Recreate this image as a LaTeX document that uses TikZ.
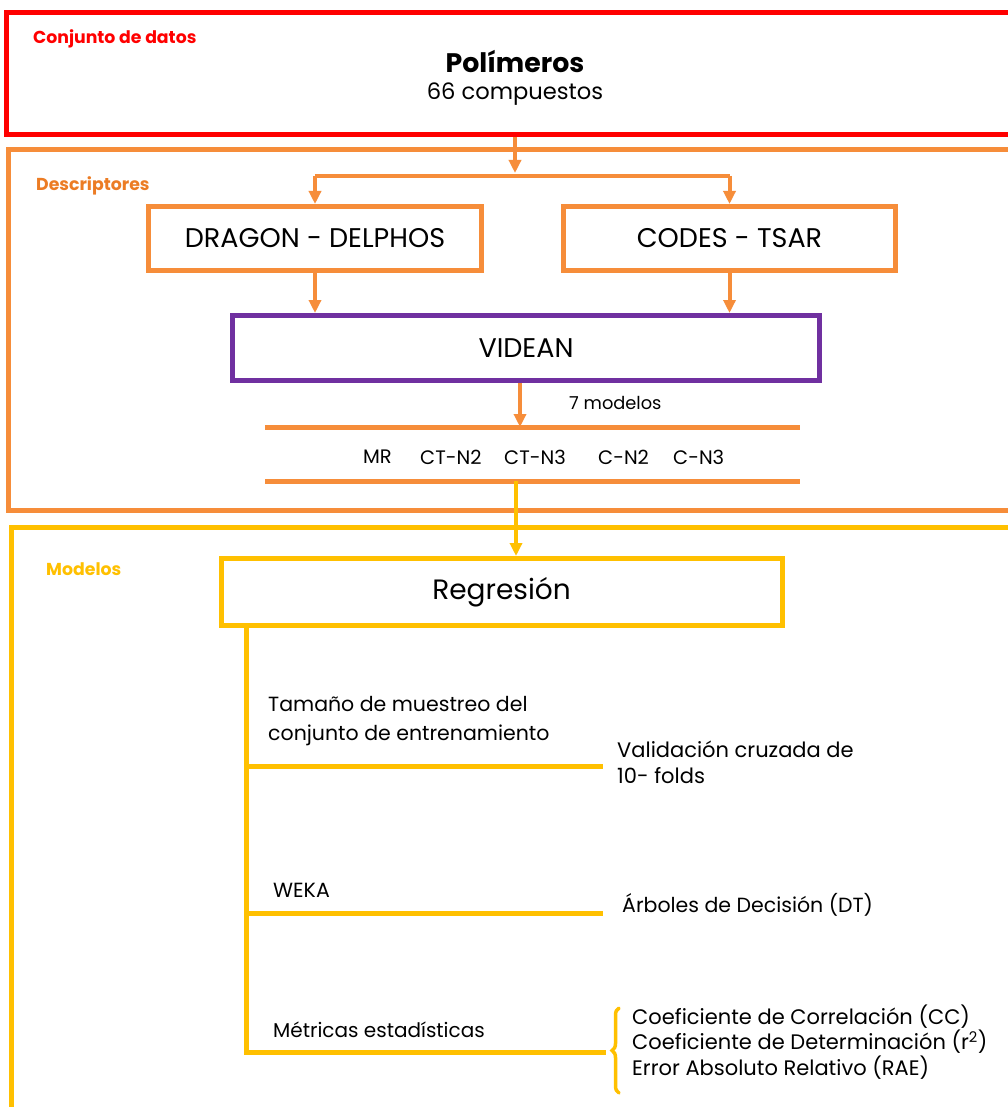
\documentclass[tikz,border=0pt]{standalone}
\usepackage{fontspec}
\setmainfont{Poppins}
\usetikzlibrary{arrows.meta,decorations.pathreplacing}
\definecolor{cred}{HTML}{FF0000}
\definecolor{corange}{HTML}{F68D3A}
\definecolor{clabel}{HTML}{EC7C24}
\definecolor{cpurple}{HTML}{7030A0}
\definecolor{cyellow}{HTML}{FFC000}
\newcommand{\fs}[2]{\fontsize{#1}{#2}\selectfont}
\begin{document}
\begin{tikzpicture}[x=1pt,y=-1pt,
  frame/.style={line width=5pt,draw=#1},
  box/.style={draw=#1,line width=5pt,rectangle,inner sep=0pt,anchor=north west,fill=white},
  conn/.style={line width=4pt,draw=#1,-{Triangle[length=13pt,width=12pt]}},
  bar/.style={line width=5pt,draw=#1},
  seclabel/.style={text=#1,font=\bfseries\fs{17.3}{20},anchor=west,inner sep=0pt},
  body/.style={font=\fs{20.5}{29},anchor=west,inner sep=0pt,align=left},
  model/.style={font=\fs{19.5}{23},anchor=west,inner sep=0pt},
  boxtext/.style={font=\fs{27}{32}}]
\useasboundingbox (0,0) rectangle (1008,1107);
\fill[white] (0,0) rectangle (1008,1107);

% section frames
\draw[frame=cred] (6.5,13) rectangle (1030,135);
\draw[frame=corange] (8.5,150) rectangle (1030,510);
\draw[frame=cyellow] (11,527) rectangle (1030,1130);

% dataset
\node[seclabel=cred] (lbldatos) at (33,39) {Conjunto de datos};
\node[font=\bfseries\fs{26.8}{32}] (poly) at (515,61) {Polímeros};
\node[font=\fs{22.6}{27}] (comp) at (515,94) {66 compuestos};
\coordinate (datbot) at (515,137);

% descriptors
\node[seclabel=clabel] (lbldesc) at (36,186) {Descriptores};
\node[box=corange,minimum width=333pt,minimum height=64pt] (dragon) at (146,204) {};
\node[boxtext] at (dragon.center) {DRAGON - DELPHOS};
\node[box=corange,minimum width=332pt,minimum height=64pt] (codes) at (561,204) {};
\node[boxtext] at (codes.center) {CODES - TSAR};
\node[box=cpurple,minimum width=587pt,minimum height=65pt] (videan) at (230,313) {};
\node[boxtext] at (videan.center) {VIDEAN};

\coordinate (split) at (515,176);
\draw[conn=corange] (datbot) -- (split |- 0,173);
\draw[line width=4pt,draw=corange] (dragon.north |- split) -- (codes.north |- split);
\draw[conn=corange] (dragon.north |- split) -- (dragon.north);
\draw[conn=corange] (codes.north |- split) -- (codes.north);
\draw[conn=corange] (dragon.south) -- (dragon.south |- videan.north);
\draw[conn=corange] (codes.south) -- (codes.south |- videan.north);

% model list
\coordinate (bar1l) at (265,427);
\coordinate (bar1r) at (800,427);
\coordinate (bar2l) at (265,481);
\coordinate (bar2r) at (800,481);
\draw[bar=corange] (bar1l) -- (bar1r);
\draw[bar=corange] (bar2l) -- (bar2r);
\draw[conn=corange] (videan.south -| 520,0) -- (520,427);
\node[font=\fs{17.8}{21},anchor=west,inner sep=0pt] (nmod) at (569,403) {7 modelos};
\node[model] (mr) at (363,457) {MR};
\node[model] (ctn2) at (420,457) {CT-N2};
\node[model] (ctn3) at (504,457) {CT-N3};
\node[model] (cn2) at (598,457) {C-N2};
\node[model] (cn3) at (673,457) {C-N3};

% models
\node[seclabel=cyellow] (lblmod) at (46,569) {Modelos};
\node[box=cyellow,minimum width=561pt,minimum height=67pt] (reg) at (218.5,556) {};
\node[font=\fs{28}{34}] at (reg.center) {Regresión};
\draw[conn=cyellow] (516,481) -- (516,556);

\coordinate (spine) at (246,623);
\coordinate (b1) at (246,766);
\coordinate (b2) at (246,913);
\coordinate (b3) at (246,1052);
\draw[bar=cyellow] (spine) -- (b3) -- (606,1052);
\draw[bar=cyellow] (b1) -- (603,766);
\draw[bar=cyellow] (b2) -- (603,913);

\node[body] (tam) at (268,721) {Tamaño de muestreo del\\conjunto de entrenamiento};
\node[body,font=\fs{21}{26}] (val) at (617,762) {Validación cruzada de\\10- folds};
\node[body] (weka) at (273,890) {WEKA};
\node[body] (arb) at (622,905) {Árboles de Decisión (DT)};
\node[body,font=\fs{20}{29}] (met) at (273,1030) {Métricas estadísticas};
\draw[line width=3.5pt,draw=cyellow,line cap=round,decorate,decoration={brace,amplitude=7pt}] (619,1093) -- (619,1008);
\node[body,font=\fs{21}{25.5}] (metlist) at (632,1042) {Coeficiente de Correlación (CC)\\Coeficiente de Determinación (r\textsuperscript{2})\\Error Absoluto Relativo (RAE)};
\end{tikzpicture}
\end{document}
